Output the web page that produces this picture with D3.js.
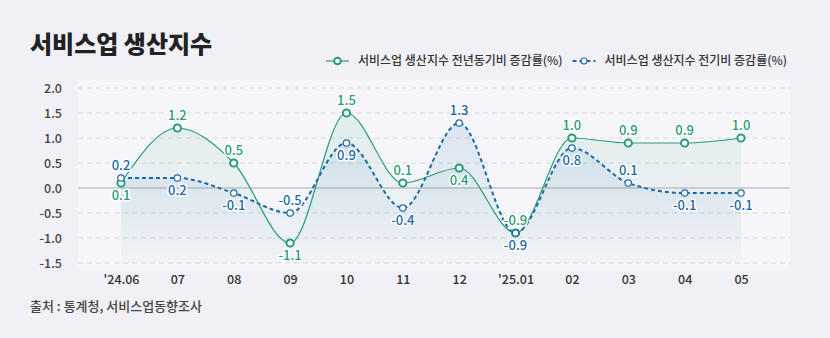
<!DOCTYPE html>
<html><head><meta charset="utf-8">
<script src="https://cdn.jsdelivr.net/npm/d3@7"></script>
<style>
html,body{margin:0;padding:0;background:#f1f0f7;}
svg{display:block;font-family:"Noto Sans CJK KR","Noto Sans",sans-serif;}
</style></head><body>
<svg id="c" width="830" height="338"></svg>
<script>
const categories = ["'24.06","07","08","09","10","11","12","'25.01","02","03","04","05"];
const yoyValues = [0.1, 1.2, 0.5, -1.1, 1.5, 0.1, 0.4, -0.9, 1.0, 0.9, 0.9, 1.0];
const momValues = [0.2, 0.2, -0.1, -0.5, 0.9, -0.4, 1.3, -0.9, 0.8, 0.1, -0.1, -0.1];
const yTicks = [2.0, 1.5, 1.0, 0.5, 0.0, -0.5, -1.0, -1.5];
const seriesNames = ["서비스업 생산지수 전년동기비 증감률(%)", "서비스업 생산지수 전기비 증감률(%)"];
const yoyLabelSide = ["b","t","t","b","t","t","b","t","t","t","t","t"];
const momLabelSide = ["t","b","b","t","b","b","t","b","b","t","b","b"];

const green = "#2a9d74", blue = "#1d6aa6";
const fmt = d => d3.format(".1f")(d).replace("\u2212","-");
const svg = d3.select("#c");
const x = d3.scalePoint().domain(categories).range([121, 741]);
const y = d3.scaleLinear().domain([-1.5, 2.0]).range([263, 88]);

// plot panel
svg.append("rect").attr("x",78).attr("y",80).attr("width",712).attr("height",190).attr("fill","#f5f5fa");

// title
svg.append("text").attr("x",30).attr("y",53).attr("font-size",24).attr("font-weight",900).attr("fill","#222").text("서비스업 생산지수");

// grid
const g = svg.append("g");
yTicks.forEach(t=>{
  g.append("line").attr("x1",78).attr("x2",790).attr("y1",y(t)).attr("y2",y(t))
   .attr("stroke", t===0 ? "#aaaaaf" : "#d9d9e1").attr("stroke-width",1)
   .attr("stroke-dasharray", t===0 ? null : "5,4");
});
const yAxis = d3.axisLeft(y).tickValues(yTicks).tickFormat(fmt).tickSize(0).tickPadding(0);
const ya = svg.append("g").attr("transform","translate(62,0)").call(yAxis);
ya.select(".domain").remove();
ya.selectAll("text").attr("font-size",12.5).attr("font-weight",500).attr("fill","#444").attr("font-family","'Noto Sans CJK KR',sans-serif");

const xAxis = d3.axisBottom(x).tickSize(0).tickPadding(0);
const xa = svg.append("g").attr("transform","translate(0,275)").call(xAxis);
xa.select(".domain").remove();
xa.selectAll("text").attr("font-size",12.5).attr("font-weight",500).attr("fill","#333").attr("font-family","'Noto Sans CJK KR',sans-serif");

// gradients
const defs = svg.append("defs");
function grad(id, color, o1, o2){
  const lg = defs.append("linearGradient").attr("id",id).attr("x1",0).attr("y1",0).attr("x2",0).attr("y2",1);
  lg.append("stop").attr("offset","0%").attr("stop-color",color).attr("stop-opacity",o1);
  lg.append("stop").attr("offset","100%").attr("stop-color",color).attr("stop-opacity",o2);
}
grad("gg", green, 0.10, 0.01);
grad("gb", blue, 0.12, 0.01);

const curve = d3.curveMonotoneX;
const area = d3.area().x((d,i)=>x(categories[i])).y0(y(-1.5)).y1(d=>y(d)).curve(curve);
const line = d3.line().x((d,i)=>x(categories[i])).y(d=>y(d)).curve(curve);

svg.append("path").datum(yoyValues).attr("d",area).attr("fill","url(#gg)");
svg.append("path").datum(momValues).attr("d",area).attr("fill","url(#gb)");

svg.append("path").datum(yoyValues).attr("d",line).attr("fill","none").attr("stroke",green).attr("stroke-width",1.2);
svg.append("path").datum(momValues).attr("d",line).attr("fill","none").attr("stroke",blue).attr("stroke-width",2).attr("stroke-dasharray","4,3");

// markers
svg.append("g").selectAll("circle").data(yoyValues).join("circle")
  .attr("cx",(d,i)=>x(categories[i])).attr("cy",d=>y(d)).attr("r",3.6)
  .attr("fill","#fff").attr("stroke",green).attr("stroke-width",2);
svg.append("g").selectAll("circle").data(momValues).join("circle")
  .attr("cx",(d,i)=>x(categories[i])).attr("cy",d=>y(d)).attr("r",3.2)
  .attr("fill","#fff").attr("stroke",blue).attr("stroke-width",1.2);

// labels
function labels(vals, sides, color){
  svg.append("g").selectAll("text").data(vals).join("text")
    .attr("x",(d,i)=>x(categories[i]))
    .attr("y",(d,i)=> sides[i]==="t" ? y(d)-8 : y(d)+17)
    .attr("text-anchor","middle").attr("font-size",13).attr("font-weight",500).attr("fill",color)
    .attr("stroke","#fff").attr("stroke-width",3).attr("paint-order","stroke").attr("stroke-linejoin","round")
    .text(d=>fmt(d));
}
labels(yoyValues, yoyLabelSide, green);
labels(momValues, momLabelSide, blue);

// legend
const lg = svg.append("g");
const lt2 = lg.append("text").attr("x",787).attr("y",65).attr("text-anchor","end").attr("font-size",12).attr("font-weight",500).attr("fill","#333").text(seriesNames[1]);
const w2 = lt2.node().getComputedTextLength();
const b2x = 787 - w2 - 9;
lg.append("line").attr("x1",b2x-23).attr("x2",b2x).attr("y1",61).attr("y2",61).attr("stroke",blue).attr("stroke-width",2).attr("stroke-dasharray","4,3");
lg.append("circle").attr("cx",b2x-11.5).attr("cy",61).attr("r",3).attr("fill","#fff").attr("stroke",blue).attr("stroke-width",1.2);
const lt1x = b2x - 23 - 10;
const lt1 = lg.append("text").attr("x",lt1x).attr("y",65).attr("text-anchor","end").attr("font-size",12).attr("font-weight",500).attr("fill","#333").text(seriesNames[0]);
const w1 = lt1.node().getComputedTextLength();
const b1x = lt1x - w1 - 9;
lg.append("line").attr("x1",b1x-23).attr("x2",b1x).attr("y1",61).attr("y2",61).attr("stroke",green).attr("stroke-width",1.2);
lg.append("circle").attr("cx",b1x-11.5).attr("cy",61).attr("r",3.3).attr("fill","#fff").attr("stroke",green).attr("stroke-width",2);

// source
svg.append("text").attr("x",30).attr("y",311).attr("font-size",13).attr("font-weight",500).attr("fill","#444").text("출처 : 통계청, 서비스업동향조사");
</script>
</body></html>
